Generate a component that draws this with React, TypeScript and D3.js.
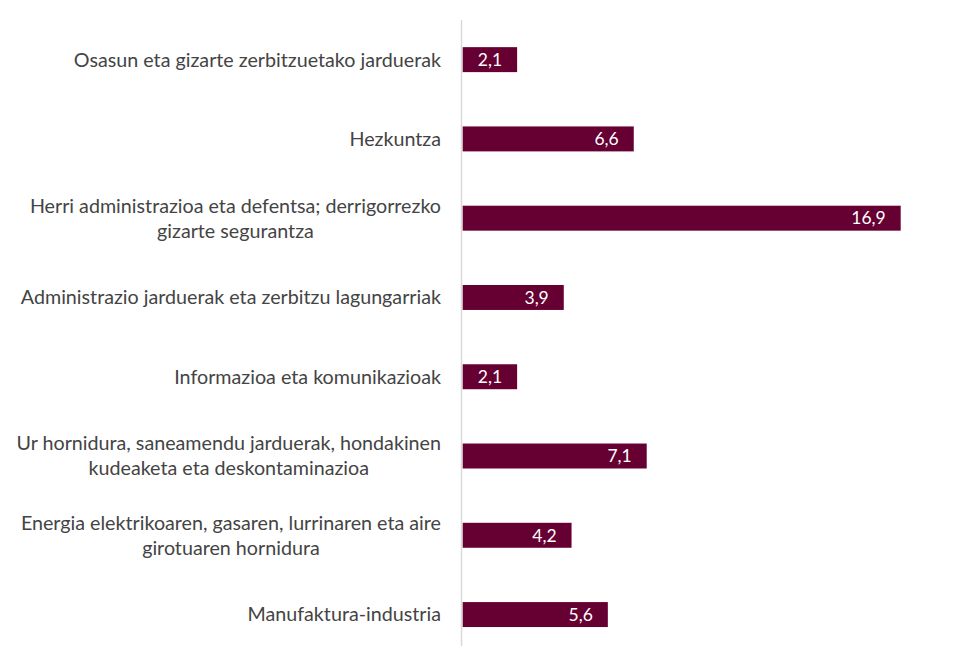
import React, { useEffect, useRef } from "react";
import * as d3 from "d3";

const categories: string[][] = [
  ["Osasun eta gizarte zerbitzuetako jarduerak"],
  ["Hezkuntza"],
  ["Herri administrazioa eta defentsa; derrigorrezko", "gizarte segurantza"],
  ["Administrazio jarduerak eta zerbitzu lagungarriak"],
  ["Informazioa eta komunikazioak"],
  ["Ur hornidura, saneamendu jarduerak, hondakinen", "kudeaketa eta deskontaminazioa"],
  ["Energia elektrikoaren, gasaren, lurrinaren eta aire", "girotuaren hornidura"],
  ["Manufaktura-industria"],
];
const values: number[] = [2.1, 6.6, 16.9, 3.9, 2.1, 7.1, 4.2, 5.6];
const valueLabels: string[] = ["2,1", "6,6", "16,9", "3,9", "2,1", "7,1", "4,2", "5,6"];

const W = 980;
const H = 646;
const FONT = "Lato, 'Open Sans', sans-serif";

export default function App() {
  const ref = useRef<SVGSVGElement | null>(null);

  useEffect(() => {
    const svg = d3.select(ref.current);
    svg.selectAll("*").remove();

    const ids = categories.map((_, i) => String(i));
    const y = d3.scaleBand<string>().domain(ids).range([20, 654.2]).paddingInner(0.685).paddingOuter(0.3425);
    const x = d3.scaleLinear().domain([0, 16.9]).range([462.7, 900.7]);

    // axis line
    svg.append("line")
      .attr("x1", 461.5).attr("x2", 461.5)
      .attr("y1", 20).attr("y2", H)
      .attr("stroke", "#d9d9d9").attr("stroke-width", 1.5);

    // bars
    svg.append("g").selectAll("rect")
      .data(values)
      .join("rect")
      .attr("x", x(0))
      .attr("y", (_, i) => y(ids[i])!)
      .attr("width", (d) => x(d) - x(0))
      .attr("height", y.bandwidth())
      .attr("fill", "#660033");

    // value labels
    svg.append("g").selectAll("text")
      .data(values)
      .join("text")
      .attr("x", (d) => x(d) - 15)
      .attr("y", (_, i) => y(ids[i])! + y.bandwidth() / 2)
      .attr("dy", "0.36em")
      .attr("text-anchor", "end")
      .attr("fill", "#ffffff")
      .attr("font-family", FONT)
      .attr("font-weight", 400)
      .attr("font-size", 17.5)
      .text((_, i) => valueLabels[i]);

    // category labels
    const lh = 25;
    const rightEdge = 441;
    const g = svg.append("g");
    categories.forEach((lines, i) => {
      const cy = y(ids[i])! + y.bandwidth() / 2;
      const t = g.append("text")
        .attr("font-family", FONT)
        .attr("font-weight", 400)
        .attr("font-size", 19.7)
        .attr("fill", "#444444")
        .attr("text-anchor", "middle");
      const spans = lines.map((line, j) =>
        t.append("tspan")
          .attr("y", cy + (j - (lines.length - 1) / 2) * lh)
          .attr("dy", "0.35em")
          .text(line)
      );
      let maxW = 0;
      spans.forEach((s) => {
        const node = s.node() as SVGTSpanElement;
        maxW = Math.max(maxW, node.getComputedTextLength());
      });
      spans.forEach((s) => s.attr("x", rightEdge - maxW / 2));
    });
  }, []);

  return (
    <svg
      ref={ref}
      width={W}
      height={H}
      style={{ position: "absolute", left: 0, top: 0, background: "#fff" }}
    />
  );
}
